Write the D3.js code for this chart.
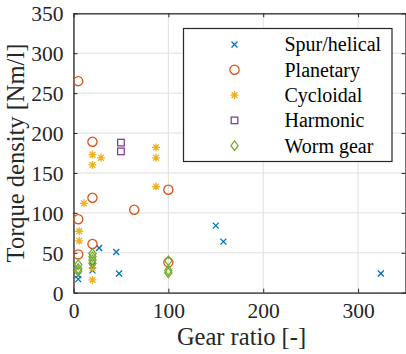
<!DOCTYPE html>
<html>
<head>
<meta charset="utf-8">
<script src="https://cdn.jsdelivr.net/npm/d3@7"></script>
<style>
  html, body { margin: 0; padding: 0; background: #fff; }
  svg, svg text { font-family: 'Liberation Serif', 'Times New Roman', 'DejaVu Serif', serif !important; }
</style>
</head>
<body>
<script>
// gear ratio / torque density pairs per gearbox type
const spurHelical = [[5, 17], [5, 22], [20, 28], [20, 34], [27, 56], [45, 51], [48, 24], [150, 84], [158, 64], [324, 24]];
const planetary = [[5, 265], [5, 92], [5, 48], [20, 189], [20, 119], [20, 61], [64, 104], [100, 129], [100, 38]];
const cycloidal = [[6, 77], [6, 65], [11, 112], [20, 173], [20, 160], [20, 31], [20, 16], [29, 169], [87, 182], [87, 169], [87, 133]];
const harmonic = [[50, 188], [50, 177]];
const wormGear = [[5, 35], [5, 30], [5, 27], [20, 49], [20, 45], [20, 41], [20, 37], [100, 40], [100, 28], [100, 25]];

const seriesNames = ['Spur/helical', 'Planetary', 'Cycloidal', 'Harmonic', 'Worm gear'];
const seriesColors = ['#0072BD', '#D95319', '#EDB120', '#7E2F8E', '#77AC30'];
const seriesData = [spurHelical, planetary, cycloidal, harmonic, wormGear];

const xTicks = [0, 100, 200, 300];
const yTicks = [0, 50, 100, 150, 200, 250, 300, 350];

const width = 406, height = 354;
const plot = { left: 73.5, right: 405.5, top: 13.3, bottom: 292.7 };
const serif = "'Liberation Serif', 'Times New Roman', serif";

const x = d3.scaleLinear().domain([0, 350]).range([plot.left, plot.right]);
const y = d3.scaleLinear().domain([0, 350]).range([plot.bottom, plot.top]);

const svg = d3.select('body').append('svg')
  .attr('width', width)
  .attr('height', height);

// grid
const grid = svg.append('g').attr('stroke', '#dfdfdf').attr('stroke-width', 1);
grid.selectAll('line.gx').data(xTicks).enter().append('line')
  .attr('x1', d => x(d)).attr('x2', d => x(d))
  .attr('y1', plot.top).attr('y2', plot.bottom);
grid.selectAll('line.gy').data(yTicks).enter().append('line')
  .attr('x1', plot.left).attr('x2', plot.right)
  .attr('y1', d => y(d)).attr('y2', d => y(d));

// axes with inward ticks on all four sides
const tickLen = 4;
const axisColor = '#262626';
const xAxisB = svg.append('g').attr('transform', `translate(0,${plot.bottom})`)
  .call(d3.axisBottom(x).tickValues(xTicks).tickSizeInner(-tickLen).tickSizeOuter(0).tickPadding(10));
const xAxisT = svg.append('g').attr('transform', `translate(0,${plot.top})`)
  .call(d3.axisTop(x).tickValues(xTicks).tickSizeInner(-tickLen).tickSizeOuter(0).tickFormat(''));
const yAxisL = svg.append('g').attr('transform', `translate(${plot.left},0)`)
  .call(d3.axisLeft(y).tickValues(yTicks).tickSizeInner(-tickLen).tickSizeOuter(0).tickPadding(10));
const yAxisR = svg.append('g').attr('transform', `translate(${plot.right},0)`)
  .call(d3.axisRight(y).tickValues(yTicks).tickSizeInner(-tickLen).tickSizeOuter(0).tickFormat(''));

[xAxisB, xAxisT, yAxisL, yAxisR].forEach(a => {
  a.attr('font-family', serif);
  a.select('.domain').attr('stroke', axisColor).attr('stroke-width', 1.3);
  a.selectAll('.tick line').attr('stroke', axisColor).attr('stroke-width', 1);
  a.selectAll('.tick text')
    .attr('fill', axisColor)
    .style('font-family', serif)
    .attr('font-size', 21.5);
});
xAxisB.selectAll('.tick text').attr('dy', '0.71em');
yAxisL.selectAll('.tick text').attr('dy', '0.34em');

// axis labels
svg.append('text')
  .attr('x', (plot.left + plot.right) / 2 + 2)
  .attr('y', 345)
  .attr('text-anchor', 'middle')
  .style('font-family', serif)
  .attr('font-size', 24.5)
  .attr('fill', axisColor)
  .text('Gear ratio [-]');

svg.append('text')
  .attr('transform', `translate(24,${(plot.top + plot.bottom) / 2}) rotate(-90)`)
  .attr('text-anchor', 'middle')
  .style('font-family', serif)
  .attr('font-size', 24.5)
  .attr('fill', axisColor)
  .text('Torque density [Nm/l]');

// marker shapes
function drawMarker(g, kind, color) {
  if (kind === 0) {
    g.append('path').attr('d', 'M-3,-3L3,3M-3,3L3,-3')
      .attr('stroke', color).attr('stroke-width', 1.3).attr('fill', 'none');
  } else if (kind === 1) {
    g.append('circle').attr('r', 4.6)
      .attr('stroke', color).attr('stroke-width', 1.3).attr('fill', 'none');
  } else if (kind === 2) {
    g.append('path').attr('d', 'M-4,0L4,0M0,-4L0,4M-2.9,-2.9L2.9,2.9M-2.9,2.9L2.9,-2.9')
      .attr('stroke', color).attr('stroke-width', 1.3).attr('fill', 'none');
  } else if (kind === 3) {
    g.append('rect').attr('x', -3.3).attr('y', -3.3).attr('width', 6.6).attr('height', 6.6)
      .attr('stroke', color).attr('stroke-width', 1.2).attr('fill', 'none');
  } else {
    g.append('path').attr('d', 'M0,-4.8L3.6,0L0,4.8L-3.6,0Z')
      .attr('stroke', color).attr('stroke-width', 1.3).attr('fill', 'none');
  }
}

// points
seriesData.forEach((data, k) => {
  const grp = svg.append('g').attr('class', 'series-' + k);
  grp.selectAll('g').data(data).enter().append('g')
    .attr('transform', d => `translate(${x(d[0])},${y(d[1])})`)
    .each(function() { drawMarker(d3.select(this), k, seriesColors[k]); });
});

// legend
const legend = svg.append('g');
legend.append('rect')
  .attr('x', 183.5).attr('y', 28.5)
  .attr('width', 208.5).attr('height', 133)
  .attr('fill', '#fff')
  .attr('stroke', axisColor).attr('stroke-width', 1.2);

seriesNames.forEach((name, k) => {
  const ly = 44.5 + k * 25.3;
  const mg = legend.append('g').attr('transform', `translate(234.5,${ly})`);
  drawMarker(mg, k, seriesColors[k]);
  legend.append('text')
    .attr('x', 284.5)
    .attr('y', ly)
    .attr('dy', '0.34em')
    .style('font-family', serif)
    .attr('font-size', 20)
    .attr('fill', '#000')
    .text(name);
});
</script>
</body>
</html>
